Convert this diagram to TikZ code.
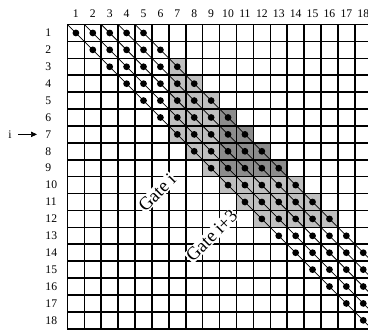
\documentclass[tikz,border=0pt]{standalone}
\usepackage{fontspec}
\setmainfont{Liberation Serif}
\usetikzlibrary{arrows.meta}

\tikzset{
  gridline/.style={line width=1.3pt, line cap=rect},
  diagline/.style={line width=0.6pt},
  numlbl/.style={font=\fontsize{9.8}{11}\selectfont},
  gatelbl/.style={font=\fontsize{15.5}{17}\selectfont, fill=white, inner sep=0.6pt, rotate=45},
  lightgate/.style={fill=black!25},
  darkgate/.style={fill=black!45}
}

\begin{document}
\begin{tikzpicture}[x=0.5cm,y=-0.5cm]
\useasboundingbox (-3.99,-1.45) rectangle (17.78,18.02);
% gate i (rows 3-9) and gate i+3 (rows 6-12)
\foreach \r/\a in {3/7,4/7,5/7,6/7,7/7,8/8,9/9}
  \fill[lightgate] (\a-1,\r-1) rectangle (\r+4,\r);
\foreach \r/\a/\b in {10/10/14,11/11/15,12/12/16}
  \fill[lightgate] (\a-1,\r-1) rectangle (\b,\r);
% overlap
\foreach \r in {6,...,9}
  \fill[darkgate] (9,\r-1) rectangle (\r+4,\r);
% grid
\foreach \i in {0,...,18}{
  \draw[gridline] (\i,0) -- (\i,18);
  \draw[gridline] (0,\i) -- (18,\i);
}
% band diagonals and dots
\foreach \k in {0,...,4}
  \draw[diagline] (\k,0) -- (18,18-\k);
\foreach \r in {1,...,18}
  \foreach \k in {0,...,4}{
    \pgfmathtruncatemacro{\c}{\r+\k}
    \ifnum\c<19 \fill (\c-0.5,\r-0.5) circle (0.2); \fi
  }
% labels
\foreach \n in {1,...,18}{
  \node[numlbl] (c\n) at (\n-0.5,-0.66) {\n};
  \node[numlbl,anchor=west] (r\n) at (-1.55,\n-0.5) {\n};
}
\node[numlbl] (ilbl) at (-3.4,6.5) {i};
\draw[-{Triangle[length=5pt,width=4.5pt]}, line width=0.6pt, shorten <=2pt, shorten >=3.6pt] (ilbl) -- (r7);
\node[gatelbl] (gatei) at (5.3,9.95) {Gate i};
\node[gatelbl] (gateiii) at (8.53,12.5) {Gate i+3};
\end{tikzpicture}
\end{document}
